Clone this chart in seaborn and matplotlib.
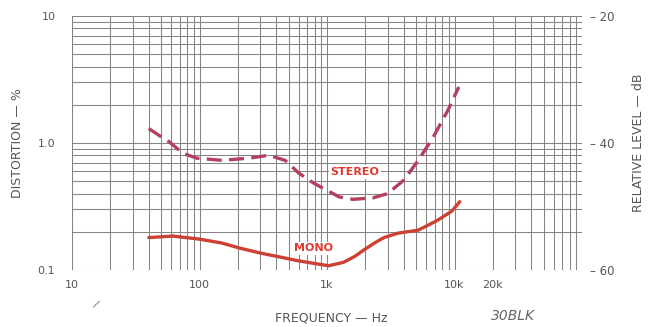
import matplotlib
matplotlib.use("Agg")
import matplotlib.pyplot as plt
import seaborn as sns
import pandas as pd
from matplotlib.ticker import FixedLocator, NullLocator

# ---- data ----
stereo_freq = [40, 50, 58, 74, 95, 150, 245, 350, 470, 600, 770, 930,
               1250, 1600, 2300, 3000, 4000, 5200, 6800, 8900, 10800]
stereo_dist = [1.30, 1.12, 1.02, 0.83, 0.76, 0.73, 0.76, 0.80, 0.73, 0.58, 0.49, 0.44,
               0.376, 0.36, 0.37, 0.40, 0.51, 0.73, 1.11, 1.82, 2.76]

mono_freq = [40, 62, 100, 150, 205, 300, 420, 600, 870, 1030, 1350, 1650, 1950, 2400,
             2800, 3600, 5200, 7300, 9500, 11000]
mono_dist = [0.18, 0.185, 0.175, 0.163, 0.149, 0.136, 0.127, 0.118, 0.111, 0.108, 0.115,
             0.128, 0.144, 0.165, 0.180, 0.195, 0.206, 0.245, 0.290, 0.345]

x_ticks = [10, 100, 1000, 10000, 20000]
x_ticklabels = ["10", "100", "1k", "10k", "20k"]
y_ticks = [0.1, 1.0, 10]
y_ticklabels = ["0.1", "1.0", "10"]
db_ticks = [-60, -40, -20]
db_ticklabels = ["\u2013 60", "\u2013 40", "\u2013 20"]

df = pd.concat([
    pd.DataFrame({"freq": stereo_freq, "dist": stereo_dist, "series": "STEREO"}),
    pd.DataFrame({"freq": mono_freq, "dist": mono_dist, "series": "MONO"}),
])

sns.set_style("white")
plt.rcParams["font.family"] = ["DejaVu Sans"]

fig = plt.figure(figsize=(6.58, 3.27), dpi=100)
ax = fig.add_axes([72/658, 1-270/327, 510/658, 254/327])
ax.set_xscale("log")
ax.set_yscale("log")
ax.set_xlim(10, 100000)
ax.set_ylim(0.1, 10)

# chart paper grid
grid_c = "#858585"
xs = [m * 10**e for e in range(1, 5) for m in range(1, 10)] + [100000]
ys = [m * 10**e for e in (-1, 0) for m in range(1, 10)] + [10]
for xv in xs:
    ax.axvline(xv, color=grid_c, lw=0.75, zorder=0)
for yv in ys:
    ax.axhline(yv, color=grid_c, lw=0.75, zorder=0)

palette = {"STEREO": "#b2405e", "MONO": "#cc4133"}
sns.lineplot(data=df, x="freq", y="dist", hue="series", style="series",
             palette=palette, dashes={"STEREO": (4.5, 2.2), "MONO": ""},
             linewidth=2.4, legend=False, ax=ax, zorder=3, sort=False,
             estimator=None)

for s in ax.spines.values():
    s.set_visible(False)

ax.xaxis.set_major_locator(FixedLocator(x_ticks))
ax.set_xticklabels(x_ticklabels)
ax.xaxis.set_minor_locator(NullLocator())
ax.yaxis.set_major_locator(FixedLocator(y_ticks))
ax.set_yticklabels(y_ticklabels)
ax.yaxis.set_minor_locator(NullLocator())
ax.tick_params(axis="both", length=0, labelsize=8, colors="#555555")
ax.tick_params(axis="x", pad=7)
ax.tick_params(axis="y", pad=12)
ax.set_xlabel("")
ax.set_ylabel("")

ax2 = ax.twinx()
ax2.set_ylim(-60, -20)
ax2.yaxis.set_major_locator(FixedLocator(db_ticks))
ax2.set_yticklabels(db_ticklabels)
ax2.tick_params(axis="y", length=0, labelsize=8.5, colors="#555555", pad=6)
for s in ax2.spines.values():
    s.set_visible(False)

lab_kw = dict(fontsize=9, color="#555555")
fig.text(18/658, 1-143/327, "DISTORTION \u2014 %", rotation=90, ha="center", va="center", **lab_kw)
fig.text(638/658, 1-143/327, "RELATIVE LEVEL \u2014 dB", rotation=90, ha="center", va="center", **lab_kw)
fig.text(331/658, 1-318/327, "FREQUENCY \u2014 Hz", ha="center", va="center", **lab_kw)
fig.text(513/658, 1-316/327, "30BLK", ha="center", va="center", fontsize=10,
         style="italic", color="#666666")
fig.text(96/658, 1-304/327, "/", ha="center", va="center", fontsize=8, color="#777777",
         rotation=-30)

box = dict(boxstyle="square,pad=0.15", fc="white", ec="none")
ax.text(1650, 0.59, "STEREO", color="#e03a30", fontsize=8, fontweight="bold",
        ha="center", va="center", bbox=box, zorder=5)
ax.text(780, 0.148, "MONO", color="#e03a30", fontsize=8, fontweight="bold",
        ha="center", va="center", bbox=box, zorder=5)

fig.savefig("out.png", dpi=100)
